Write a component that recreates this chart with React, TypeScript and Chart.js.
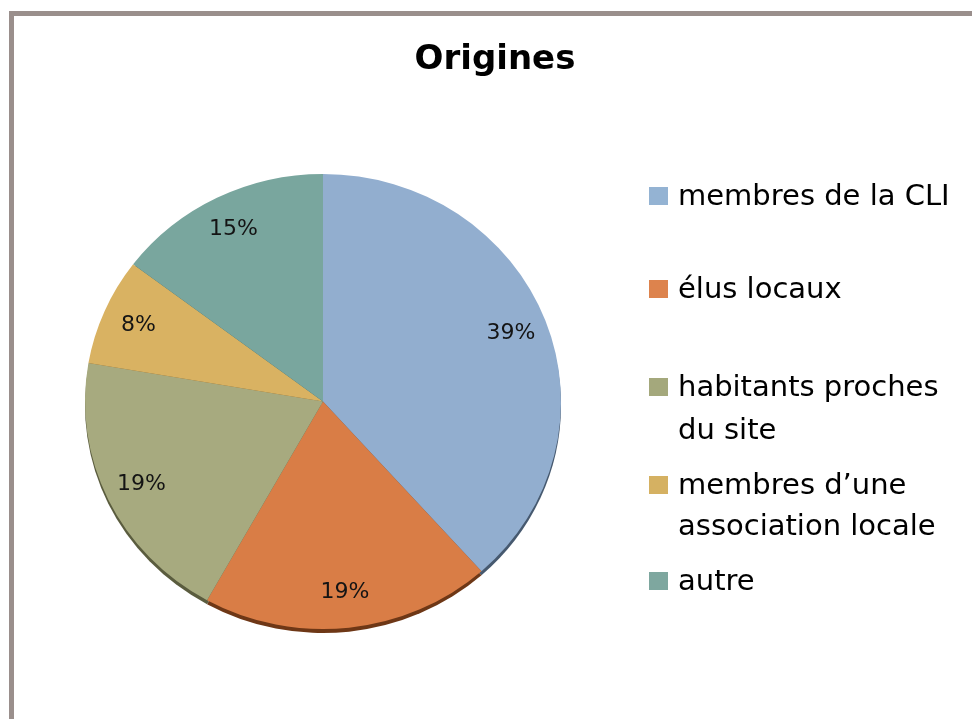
import React, { useEffect, useRef } from 'react';
import { Chart, registerables } from 'chart.js';

Chart.register(...registerables);

const TITLE = 'Origines';
const categories: string[][] = [
  ['membres de la CLI'],
  ['élus locaux'],
  ['habitants proches', 'du site'],
  ['membres d’une', 'association locale'],
  ['autre'],
];
const values = [38.4, 19.7, 19.6, 7.6, 14.7];
const percentLabels = ['39%', '19%', '19%', '8%', '15%'];
const sliceColors = ['#92aecf', '#d97d46', '#a7aa7f', '#d9b262', '#79a69e'];
const legendColors = ['#94b3d3', '#dd834d', '#a4a87c', '#d5b162', '#7ea79f'];
const rimColors = ['#46596f', '#6e3716', '#5a5c3e', '#7a6030', '#3f5f58'];

const W = 972;
const H = 719;
const Y_SCALE = 0.956;
const RIM = 4;
const FONT = '"DejaVu Sans", sans-serif';

const decorPlugin = {
  id: 'decor',
  beforeDraw(chart: any) {
    const ctx = chart.ctx as CanvasRenderingContext2D;
    ctx.save();
    ctx.fillStyle = '#ffffff';
    ctx.fillRect(0, 0, W, H);
    ctx.fillStyle = '#9a8f8c';
    ctx.fillRect(9, 11, W, 5);
    ctx.fillRect(9, 11, 5, H);
    ctx.restore();
  },
  beforeDatasetsDraw(chart: any) {
    const ctx = chart.ctx as CanvasRenderingContext2D;
    const meta = chart.getDatasetMeta(0);
    const a0 = meta.data[0];
    const cx = a0.x;
    const cy = a0.y;
    ctx.save();
    ctx.translate(cx, cy);
    ctx.scale(1, Y_SCALE);
    ctx.translate(-cx, -cy);
    meta.data.forEach((arc: any, i: number) => {
      const p = arc.getProps(['x', 'y', 'startAngle', 'endAngle', 'outerRadius'], true);
      const off = RIM / Y_SCALE;
      ctx.beginPath();
      ctx.moveTo(p.x, p.y + off);
      ctx.arc(p.x, p.y + off, p.outerRadius, p.startAngle, p.endAngle);
      ctx.closePath();
      ctx.fillStyle = rimColors[i];
      ctx.fill();
    });
  },
  afterDatasetsDraw(chart: any) {
    const ctx = chart.ctx as CanvasRenderingContext2D;
    ctx.restore();
    const meta = chart.getDatasetMeta(0);
    ctx.save();
    ctx.fillStyle = '#141414';
    ctx.font = `22px ${FONT}`;
    ctx.textAlign = 'center';
    ctx.textBaseline = 'middle';
    meta.data.forEach((arc: any, i: number) => {
      const p = arc.getProps(['x', 'y', 'startAngle', 'endAngle', 'outerRadius'], true);
      const mid = (p.startAngle + p.endAngle) / 2;
      const d = p.outerRadius * 0.845;
      const x = p.x + Math.cos(mid) * d;
      const y = p.y + Math.sin(mid) * d * Y_SCALE;
      ctx.fillText(percentLabels[i], x, y);
    });
    ctx.restore();
  },
  afterDraw(chart: any) {
    const ctx = chart.ctx as CanvasRenderingContext2D;
    ctx.save();
    // title
    ctx.fillStyle = '#000000';
    ctx.font = `bold 34px ${FONT}`;
    ctx.textAlign = 'center';
    ctx.textBaseline = 'alphabetic';
    ctx.fillText(TITLE, 495, 69);
    // legend
    const baselines = [[205], [298], [396, 439], [494, 535], [590]];
    ctx.font = `29px ${FONT}`;
    ctx.textAlign = 'left';
    categories.forEach((lines, i) => {
      const bl = baselines[i];
      ctx.fillStyle = legendColors[i];
      ctx.fillRect(649, bl[0] - 18, 19, 18);
      ctx.fillStyle = '#000000';
      lines.forEach((t, j) => ctx.fillText(t, 678, bl[j]));
    });
    ctx.restore();
  },
};

export default function App() {
  const ref = useRef<HTMLCanvasElement | null>(null);
  useEffect(() => {
    if (!ref.current) return;
    const chart = new Chart(ref.current, {
      type: 'pie',
      data: {
        labels: categories.map((c) => c.join(' ')),
        datasets: [
          {
            data: values,
            backgroundColor: sliceColors,
            borderWidth: 0,
          },
        ],
      },
      options: {
        responsive: false,
        animation: false,
        layout: { padding: { left: 85, right: W - 561, top: 163.5, bottom: H - 639.5 } },
        plugins: {
          legend: { display: false },
          title: { display: false },
          tooltip: { enabled: false },
        },
      },
      plugins: [decorPlugin],
    });
    return () => chart.destroy();
  }, []);
  return (
    <div style={{ position: 'fixed', left: 0, top: 0, width: W, height: H, background: '#fff' }}>
      <canvas ref={ref} width={W} height={H} style={{ width: W, height: H, display: 'block' }} />
    </div>
  );
}
